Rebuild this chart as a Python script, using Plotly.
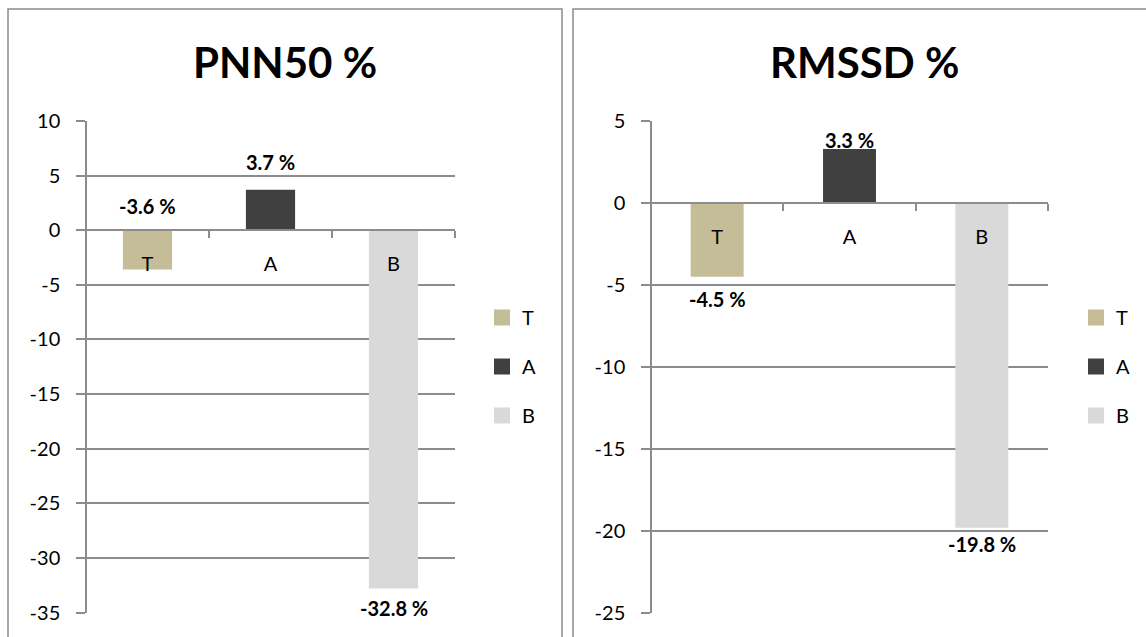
import plotly.graph_objects as go

# ---------------- data ----------------
categories = ["T", "A", "B"]
pnn50_values = [-3.6, 3.7, -32.8]
rmssd_values = [-4.5, 3.3, -19.8]
bar_colors = ["#C4BD97", "#404040", "#D9D9D9"]
titles = ["PNN50 %", "RMSSD %"]
pnn50_ticks = [10, 5, 0, -5, -10, -15, -20, -25, -30, -35]
rmssd_ticks = [5, 0, -5, -10, -15, -20, -25]

W, H = 1146, 637
FONT = "Lato"
GRID = "#8C8C8C"

fig = go.Figure()

panels = [
    dict(vals=pnn50_values, ticks=pnn50_ticks, xd=[86 / W, 455 / W], yd=[1 - 612.5 / H, 1 - 121 / H],
         xa="x", ya="y", leg="legend", title=titles[0], tx=285 / W,
         place=[("zero", "bottom", 10), ("val", "bottom", 14), ("val", "top", -6)]),
    dict(vals=rmssd_values, ticks=rmssd_ticks, xd=[651 / W, 1048 / W], yd=[1 - 613 / H, 1 - 121 / H],
         xa="x2", ya="y2", leg="legend2", title=titles[1], tx=864 / W,
         place=[("val", "top", -8), ("val", "bottom", -5), ("val", "top", -2)]),
]

annotations = []
for i, p in enumerate(panels):
    for c, v, col in zip(categories, p["vals"], bar_colors):
        fig.add_trace(go.Bar(x=[c], y=[v], marker=dict(color=col, line=dict(width=0)),
                             width=0.4, xaxis=p["xa"], yaxis=p["ya"], showlegend=False,
                             hoverinfo="skip"))
    for c, col in zip(categories, bar_colors):
        fig.add_trace(go.Scatter(x=[None], y=[None], mode="markers", name=c,
                                 marker=dict(symbol="square", size=16, color=col),
                                 xaxis=p["xa"], yaxis=p["ya"], legend=p["leg"],
                                 legendgroup=f"{p['leg']}_{c}"))
    for (c, v), (src, ya, ys) in zip(zip(categories, p["vals"]), p["place"]):
        annotations.append(dict(x=c, y=(0 if src == "zero" else v), xref=p["xa"], yref=p["ya"],
                                text=f"<b>{v:.1f} %</b>", showarrow=False, yanchor=ya, yshift=ys,
                                font=dict(family=FONT, size=20, color="black")))
    annotations.append(dict(x=p["tx"], y=1 - 62 / H, xref="paper", yref="paper",
                            text=f"<b>{p['title']}</b>", showarrow=False,
                            xanchor="center", yanchor="middle",
                            font=dict(family=FONT, size=42, color="black")))

def xaxis_for(p):
    lo, hi = min(p["ticks"]), max(p["ticks"])
    pos = p["yd"][0] + (0 - lo) / (hi - lo) * (p["yd"][1] - p["yd"][0])
    return dict(domain=p["xd"], anchor="free", position=pos, type="category",
                categoryorder="array", categoryarray=categories, range=[-0.5, 2.5],
                showline=True, linecolor=GRID, linewidth=1.5, showgrid=False,
                ticks="outside", tickson="boundaries", ticklen=7, tickcolor=GRID, tickwidth=1.5,
                ticklabelstandoff=16, tickfont=dict(family=FONT, size=20, color="black"),
                fixedrange=True, automargin=False)

def yaxis_for(p):
    lo, hi = min(p["ticks"]), max(p["ticks"])
    return dict(domain=p["yd"], anchor="free", position=p["xd"][0], range=[lo, hi],
                tickvals=p["ticks"], ticktext=[str(t) for t in p["ticks"]],
                showline=True, linecolor=GRID, linewidth=1.5,
                showgrid=True, gridcolor=GRID, gridwidth=1.5,
                zeroline=True, zerolinecolor=GRID, zerolinewidth=1.5,
                ticks="outside", ticklen=9, tickcolor=GRID, tickwidth=1.5,
                ticklabelstandoff=12, tickfont=dict(family=FONT, size=20, color="black"),
                fixedrange=True, automargin=False)

legend_common = dict(font=dict(family=FONT, size=20, color="black"), bgcolor="rgba(0,0,0,0)",
                     traceorder="grouped", tracegroupgap=20, yanchor="top", xanchor="left",
                     itemclick=False, itemdoubleclick=False)

fig.update_layout(
    width=W, height=H, autosize=False,
    margin=dict(l=0, r=0, t=0, b=0, pad=0, autoexpand=False),
    paper_bgcolor="white", plot_bgcolor="white",
    barmode="overlay", showlegend=True,
    xaxis=xaxis_for(panels[0]), yaxis=yaxis_for(panels[0]),
    xaxis2=xaxis_for(panels[1]), yaxis2=yaxis_for(panels[1]),
    legend=dict(x=482 / W, y=1 - 298 / H, **legend_common),
    legend2=dict(x=1076 / W, y=1 - 298 / H, **legend_common),
    annotations=annotations,
    shapes=[
        dict(type="rect", xref="paper", yref="paper", x0=8 / W, x1=562 / W, y0=-0.1, y1=1 - 9 / H,
             line=dict(color="#8C8C8C", width=1.5), fillcolor="rgba(0,0,0,0)", layer="below"),
        dict(type="rect", xref="paper", yref="paper", x0=573 / W, x1=1.1, y0=-0.1, y1=1 - 9 / H,
             line=dict(color="#8C8C8C", width=1.5), fillcolor="rgba(0,0,0,0)", layer="below"),
    ],
)

fig.write_html("out.html")
